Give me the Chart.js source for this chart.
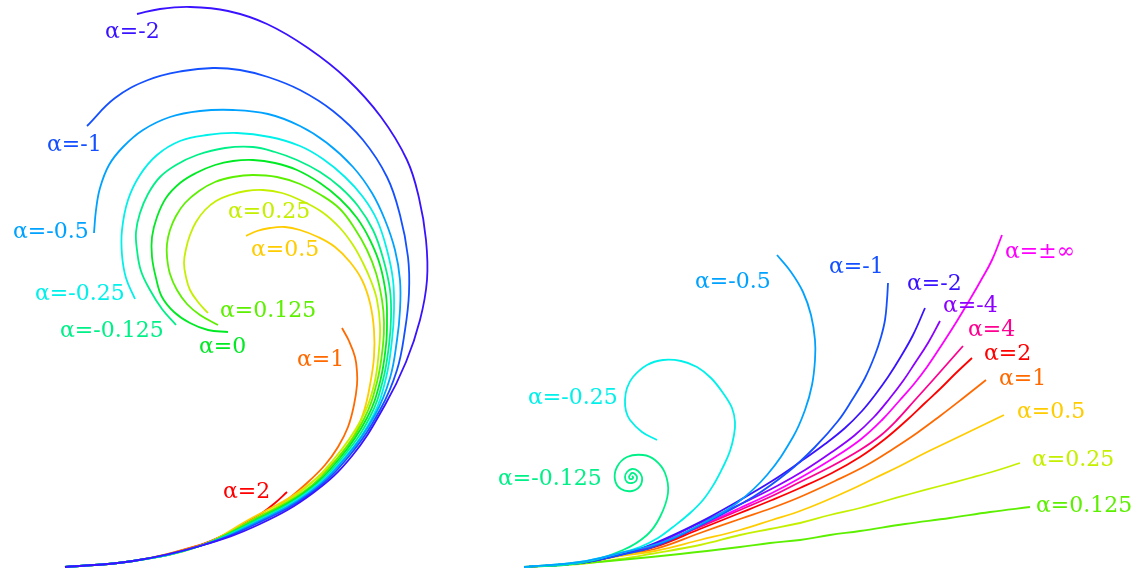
<!DOCTYPE html>
<html lang="en">
<head>
    <meta charset="UTF-8">
    <title>Log-aesthetic curves</title>
    <style>
        html, body { margin: 0; padding: 0; background: #fff; }
        #chart { display: block; }
    </style>
</head>
<body>
    <canvas id="chart" width="1141" height="573"></canvas>

    <script src="https://cdn.jsdelivr.net/npm/chart.js"></script>
    <script>
        // curve points (x to the right, y downwards)
        // left panel: every curve leaves the same start point
        const leftM2 = [[65,567],[133,561],[200,546],[260,524],[313,493],[352,456],[385,405],[406,362],[420,320],[427,280],[426,240],[419,198],[407,160],[381,117],[347,79],[308,48],[267,24],[228,11],[190,7],[160,9],[137,14]];
        const leftM1 = [[65,567],[133,561],[200,546],[258,523],[311,493],[350,455],[380,410],[397,370],[405,330],[409,293],[408,257],[400,215],[387,177],[363,140],[333,111],[300,90],[268,77],[240,70],[213,68],[183,71],[148,80],[115,98],[87,126]];
        const leftM05 = [[65,567],[133,561],[200,546],[257,522],[309,493],[347,456],[375,415],[390,378],[397,340],[400,310],[400,280],[395,250],[385,220],[372,193],[353,167],[327,143],[300,126],[268,114],[233,110],[200,111],[170,117],[143,130],[123,147],[109,165],[100,188],[96,210],[94,233]];
        const leftM025 = [[65,567],[133,561],[200,546],[256,522],[307,493],[345,457],[373,416],[386,378],[392,340],[394,310],[393,280],[387,250],[377,220],[363,197],[345,177],[323,159],[300,146],[270,137],[237,133],[207,135],[180,141],[157,155],[140,175],[128,200],[122,230],[122,255],[126,278],[135,299]];
        const leftM0125 = [[65,567],[133,561],[200,546],[255,521],[306,493],[343,457],[370,417],[383,380],[389,345],[391,318],[390,290],[383,258],[373,230],[358,206],[340,187],[320,172],[297,160],[275,152],[253,147],[225,148],[197,155],[176,165],[160,177],[148,194],[140,213],[136,232],[137,250],[141,271],[150,290],[162,309],[176,325]];
        const leftZero = [[65,567],[133,561],[200,546],[254,521],[304,493],[340,458],[367,418],[380,382],[386,345],[387,320],[386,295],[380,265],[370,240],[357,218],[340,199],[320,183],[297,170],[275,163],[253,160],[233,161],[215,165],[196,173],[180,183],[166,198],[157,217],[152,237],[152,257],[156,278],[162,297],[174,312],[190,323],[208,330],[228,332]];
        const left0125 = [[65,567],[133,561],[200,546],[253,520],[302,493],[337,459],[364,419],[377,382],[383,345],[384,322],[382,300],[376,273],[367,250],[355,229],[340,209],[321,195],[300,184],[277,177],[253,175],[233,177],[215,182],[199,191],[185,203],[176,216],[170,230],[167,244],[167,257],[170,274],[177,290],[187,304],[200,315],[218,325]];
        const left025 = [[65,567],[133,561],[200,546],[252,520],[299,493],[334,459],[361,420],[374,385],[379,350],[380,325],[377,300],[371,281],[363,263],[353,245],[340,228],[322,212],[300,200],[282,193],[263,190],[246,191],[230,195],[216,201],[205,210],[196,222],[190,235],[186,249],[184,263],[186,277],[190,290],[198,302],[208,313]];
        const left05 = [[65,567],[133,561],[200,546],[250,519],[297,493],[330,466],[353,437],[364,411],[370,385],[374,357],[374,330],[370,303],[362,280],[350,262],[335,247],[318,237],[300,230],[285,227],[270,228],[257,231],[246,236]];
        const left1 = [[65,567],[133,561],[200,545],[230,533],[257,520],[283,503],[307,483],[325,465],[338,447],[348,427],[354,405],[357,385],[357,372],[355,357],[349,341],[342,328]];
        const left2 = [[65,567],[133,561],[200,545],[230,532],[247,522],[262,513],[275,503],[287,492]];

        // right panel: every curve leaves the same start point
        const rightM05 = [[524,567],[580,562],[620,553],[663,542],[703,523],[737,503],[767,475],[793,437],[805,410],[812,385],[815,360],[815,340],[811,315],[803,292],[791,272],[777,255]];
        const rightM025 = [[524,567],[580,562],[620,553],[640,547],[658,538],[673,527],[689,514],[703,500],[714,484],[723,467],[730,451],[734,435],[735,422],[732,408],[723,393],[711,378],[697,367],[681,361],[663,360],[647,365],[633,377],[627,388],[625,400],[626,411],[630,420],[642,432],[657,440]];
        const rightM0125 = [[524,567],[580,563],[623,550],[647,535],[660,517],[668,493],[665,473],[655,460],[643,455],[627,457],[617,467],[615,480],[621,489],[632,491],[640,486],[642,477],[638,471],[632,469],[627,472],[625,477],[627,482],[632,483],[636,481],[637,477],[635,474],[632,473],[630,475],[629,477],[630,479],[632,479],[633,478],[633,477],[632,476]];
        const rightM1 = [[524,567],[580,563],[620,555],[653,547],[703,524],[753,497],[788,472],[815,447],[838,421],[852,400],[865,378],[875,355],[881,337],[885,320],[887,300],[888,283]];
        const rightM2 = [[524,567],[580,563],[620,555],[655,543],[700,522],[740,500],[772,481],[800,462],[825,444],[845,428],[862,411],[875,395],[888,377],[900,358],[913,335],[925,308]];
        const rightM4 = [[524,567],[580,563],[620,555],[655,544],[700,523],[745,502],[777,486],[805,470],[832,452],[855,435],[874,417],[890,398],[903,381],[915,363],[928,343],[940,321]];
        const rightInf = [[524,567],[580,563],[620,555],[655,545],[700,526],[740,508],[772,493],[800,478],[832,459],[860,440],[882,420],[900,400],[914,384],[927,367],[943,343],[957,321],[969,301],[980,282],[992,260],[1002,235]];
        const right4 = [[524,567],[580,563],[620,555],[655,546],[700,527],[740,510],[772,496],[800,482],[832,466],[860,450],[880,436],[897,420],[915,400],[933,380],[948,363],[963,346]];
        const right2 = [[524,567],[580,563],[620,555],[655,547],[700,529],[740,513],[772,500],[800,488],[832,473],[860,457],[885,439],[907,420],[925,403],[941,388],[956,373],[972,358]];
        const right1 = [[524,567],[580,563],[620,555],[655,549],[700,533],[740,519],[772,508],[800,497],[835,481],[867,465],[893,449],[917,433],[940,416],[962,399],[986,380]];
        const right05 = [[524,567],[580,563],[620,556],[655,551],[700,540],[740,530],[772,520],[800,511],[825,501],[850,490],[875,478],[900,466],[925,453],[950,441],[977,428],[1004,415]];
        const right025 = [[524,567],[580,564],[620,559],[650,554],[700,545],[740,535],[770,529],[800,523],[830,515],[860,508],[885,501],[910,494],[940,486],[970,478],[995,471],[1020,463]];
        const right0125 = [[524,567],[570,564],[620,560],[680,554],[740,547],[770,543],[800,540],[830,535],[860,531],[905,524],[950,518],[990,512],[1030,507]];

        const leftCurves = [leftM2, leftM1, leftM05, leftM025, leftM0125, leftZero, left0125, left025, left05, left1, left2];
        const leftNames = ['α=-2', 'α=-1', 'α=-0.5', 'α=-0.25', 'α=-0.125', 'α=0', 'α=0.125', 'α=0.25', 'α=0.5', 'α=1', 'α=2'];
        const rightCurves = [rightM05, rightM025, rightM0125, rightM1, rightM2, rightM4, right0125, right025, right05, right1, right2, right4, rightInf];
        const rightNames = ['α=-0.5', 'α=-0.25', 'α=-0.125', 'α=-1', 'α=-2', 'α=-4', 'α=0.125', 'α=0.25', 'α=0.5', 'α=1', 'α=2', 'α=4', 'α=±∞'];

        // styles and label spots (left edge of text, vertical middle)
        const leftColors = ['#3a12ff', '#1450ff', '#00a2ff', '#00f0ea', '#00f088', '#00ea24', '#5cf000', '#c4f000', '#ffcc00', '#ff6a00', '#ff0000'];
        const leftSpots = [[105,32], [47,145], [13,232], [35,294], [60,331], [199,347], [220,311], [228,212], [251,250], [297,360], [223,492]];
        const rightColors = ['#00a2ff', '#00f0ea', '#00f088', '#1450ff', '#3a12ff', '#8c00ff', '#5cf000', '#c4f000', '#ffcc00', '#ff6a00', '#ff0000', '#ff0090', '#ff00ff'];
        const rightSpots = [[695,282], [528,398], [498,479], [829,267], [907,284], [943,306], [1036,506], [1032,460], [1017,412], [999,379], [984,354], [968,330], [1005,252]];

        const curves = leftCurves.concat(rightCurves);
        const names = leftNames.concat(rightNames);
        const colors = leftColors.concat(rightColors);
        const spots = leftSpots.concat(rightSpots);

        const datasets = curves.map((pts, i) => ({
            label: names[i],
            data: pts.map(p => ({ x: p[0], y: p[1] })),
            showLine: true,
            borderColor: colors[i],
            borderWidth: 1.8,
            pointRadius: 0,
            tension: 0.4,
            fill: false,
            clip: false
        }));

        const curveLabels = {
            id: 'curveLabels',
            afterDatasetsDraw(chart) {
                const ctx = chart.ctx;
                const xs = chart.scales.x, ys = chart.scales.y;
                ctx.save();
                ctx.font = '22px "DejaVu Serif"';
                ctx.textAlign = 'left';
                ctx.textBaseline = 'middle';
                names.forEach((name, i) => {
                    ctx.fillStyle = colors[i];
                    ctx.fillText(name, xs.getPixelForValue(spots[i][0]), ys.getPixelForValue(spots[i][1]));
                });
                ctx.restore();
            }
        };

        new Chart(document.getElementById('chart'), {
            type: 'scatter',
            data: { datasets: datasets },
            options: {
                responsive: false,
                animation: false,
                layout: { padding: 0 },
                plugins: { legend: { display: false }, tooltip: { enabled: false } },
                scales: {
                    x: { type: 'linear', min: 0, max: 1141, display: false },
                    y: { type: 'linear', min: 0, max: 573, reverse: true, display: false }
                }
            },
            plugins: [curveLabels]
        });
    </script>
</body>
</html>
